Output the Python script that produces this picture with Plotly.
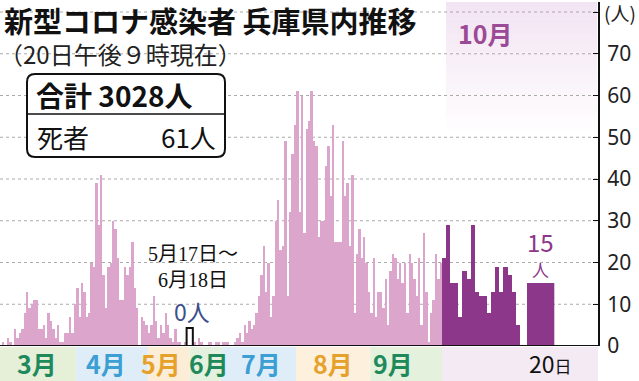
import plotly.graph_objects as go
import pandas as pd

# ---------------- data ----------------
march = [1, 0, 2, 1, 0, 4, 2, 3, 4, 8, 13, 9, 10, 11, 11, 4, 4, 5, 2, 8,
         6, 4, 2, 5, 1, 1, 3, 3, 7, 3, 10]
april = [14, 7, 15, 13, 7, 8, 20, 19, 39, 29, 41, 17, 9, 19, 20, 30, 28, 21, 11, 11,
         19, 17, 19, 25, 14, 9, 0, 7, 6, 5]
may_1_16 = [3, 5, 12, 6, 2, 5, 3, 8, 5, 2, 1, 4, 1, 1, 0, 1]
june_19_30 = [1, 0, 2, 1, 0, 0, 1, 1, 0, 1, 1, 0]
july = [1, 1, 1, 0, 0, 1, 2, 3, 1, 5, 3, 6, 4, 5, 8, 12, 17, 24, 13, 20,
        7, 12, 30, 35, 23, 24, 49, 12, 32, 46, 53]
august = [61, 32, 60, 27, 52, 54, 61, 49, 48, 26, 30, 30, 43, 48, 36, 53, 25, 25, 25, 49,
          36, 39, 24, 41, 8, 22, 28, 21, 26, 20, 13]
september = [8, 21, 7, 13, 13, 9, 16, 5, 18, 22, 21, 16, 20, 15, 20, 8, 22, 20, 16, 12,
             21, 5, 27, 13, 1, 8, 11, 22, 16, 20]
october_1_19 = [21, 29, 15, 15, 7, 18, 16, 29, 13, 12, 12, 8, 13, 19, 13, 19, 17, 13, 5]
october_20 = [15]

total_cases = 3028
deaths = 61
y_ticks = [0, 10, 20, 30, 40, 50, 60, 70, 80]
y_ticktext = ["0", "10", "20", "30", "40", "50", "60", "70", ""]
y_unit = "(人)"

month_labels = ["3月", "4月", "5月", "6月", "7月", "8月", "9月"]
month_label_dates = ["2020-03-15", "2020-04-13", "2020-05-06", "2020-06-25",
                     "2020-07-17", "2020-08-16", "2020-09-10"]

# ---------------- derived positions (compressed zero period) ----------------
pre_dates = pd.date_range("2020-03-01", "2020-05-16")
post_dates = pd.date_range("2020-06-19", "2020-09-30")
pre_vals = march + april + may_1_16
post_vals = june_19_30 + july + august + september
GAP = 3
n_pre = len(pre_dates)


def pos_of(d):
    d = pd.Timestamp(d)
    if d <= pre_dates[-1]:
        return (d - pre_dates[0]).days
    return n_pre + GAP + (d - post_dates[0]).days


x_main = [pos_of(d) for d in pre_dates] + [pos_of(d) for d in post_dates]
y_main = pre_vals + post_vals
oct_days = list(range(1, len(october_1_19) + 1))

PINK = "#dca5cc"
PURPLE = "#8d378b"
GREEN_T = "#1e8a5c"
BLUE_T = "#3b9fd3"
ORANGE_T = "#e6a12b"
label_colors = [GREEN_T, BLUE_T, ORANGE_T, GREEN_T, BLUE_T, ORANGE_T, GREEN_T]

W, H = 639, 381
PX_R = 598      # right edge of plot area (px)
PY_T, PY_B = 2, 346


def fx(px):
    return px / PX_R


def fy(py):
    return (PY_B - py) / (PY_B - PY_T)


XMIN = -1.34
XMAX = x_main[-1] + 0.5

fig = go.Figure()
fig.add_trace(go.Bar(x=x_main, y=y_main, width=1, marker=dict(color=PINK, line=dict(width=0)),
                     xaxis="x", yaxis="y", showlegend=False))
fig.add_trace(go.Bar(x=oct_days, y=october_1_19, width=1, marker=dict(color=PURPLE, line=dict(width=0)),
                     xaxis="x2", yaxis="y", showlegend=False))
fig.add_trace(go.Bar(x=["20日"], y=october_20, marker=dict(color=PURPLE, line=dict(width=0)),
                     xaxis="x3", yaxis="y", showlegend=False))

shapes = []
# October top shading (fading)
n_strips = 24
top, bot = 2, 132
for i in range(n_strips):
    y0 = top + (bot - top) * i / n_strips
    y1 = top + (bot - top) * (i + 1) / n_strips
    a = 0.42 * (1 - i / n_strips)
    shapes.append(dict(type="rect", xref="paper", yref="paper", x0=fx(446), x1=fx(597),
                       y0=fy(y1), y1=fy(y0), fillcolor=f"rgba(226,190,226,{a:.3f})",
                       line=dict(width=0), layer="below"))
# gridlines
for v in y_ticks[1:]:
    shapes.append(dict(type="line", xref="paper", yref="y", x0=0, x1=1, y0=v, y1=v,
                       line=dict(color="#ababab", width=1, dash="dot"), layer="below"))

# month bands below the axis
gap_mid = n_pre - 0.5 + GAP / 2
band_edges = [XMIN, pos_of("2020-04-01") - 0.5, pos_of("2020-05-01") - 0.5, gap_mid,
              pos_of("2020-07-01") - 0.5, pos_of("2020-08-01") - 0.5, pos_of("2020-09-01") - 0.5, XMAX]
band_colors = ["#e6f0d9", "#dfedf8", "#fcedd7", "#e4f1de", "#dfedf8", "#fdf0dc", "#e4f1dc"]
for i, c in enumerate(band_colors):
    shapes.append(dict(type="rect", xref="x", yref="paper", x0=band_edges[i], x1=band_edges[i + 1],
                       y0=fy(381), y1=fy(347), fillcolor=c, line=dict(width=0), layer="below"))
shapes.append(dict(type="rect", xref="paper", yref="paper", x0=fx(442), x1=fx(598),
                   y0=fy(381), y1=fy(347), fillcolor="#f4eaf4", line=dict(width=0), layer="below"))

# zero-period bracket
gx0, gx1 = n_pre - 0.5 + 0.2, n_pre - 0.5 + GAP - 0.2
shapes.append(dict(type="path", xref="x", yref="y",
                   path=f"M {gx0},0 L {gx0},4.3 L {gx1},4.3 L {gx1},0",
                   line=dict(color="#111", width=2)))

# baseline
shapes.append(dict(type="line", xref="paper", yref="y", x0=0, x1=1, y0=0, y1=0,
                   line=dict(color="#111", width=2), layer="above"))

# summary box (rounded)
bx0, bx1, by0, by1, r = 27, 225, 74, 157, 8
path = (f"M {fx(bx0 + r)},{fy(by0)} L {fx(bx1 - r)},{fy(by0)} Q {fx(bx1)},{fy(by0)} {fx(bx1)},{fy(by0 + r)} "
        f"L {fx(bx1)},{fy(by1 - r)} Q {fx(bx1)},{fy(by1)} {fx(bx1 - r)},{fy(by1)} "
        f"L {fx(bx0 + r)},{fy(by1)} Q {fx(bx0)},{fy(by1)} {fx(bx0)},{fy(by1 - r)} "
        f"L {fx(bx0)},{fy(by0 + r)} Q {fx(bx0)},{fy(by0)} {fx(bx0 + r)},{fy(by0)} Z")
shapes.append(dict(type="path", xref="paper", yref="paper", path=path,
                   fillcolor="white", line=dict(color="#111", width=2), layer="above"))
shapes.append(dict(type="line", xref="paper", yref="paper", x0=fx(bx0), x1=fx(bx1),
                   y0=fy(114), y1=fy(114), line=dict(color="#111", width=1.5), layer="above"))

JP = "Noto Sans CJK JP"
SERIF = "Liberation Serif, DejaVu Serif, Noto Sans CJK JP"
ann = []
ann.append(dict(text="<b>新型コロナ感染者 兵庫県内推移</b>", xref="paper", yref="paper",
                x=fx(3), y=fy(20.5), xanchor="left", yanchor="middle", showarrow=False,
                borderpad=0, font=dict(family=JP, size=29, color="#111")))
ann.append(dict(text="（20日午後９時現在）", xref="paper", yref="paper",
                x=fx(-2), y=fy(53.5), xanchor="left", yanchor="middle", showarrow=False,
                borderpad=0, font=dict(family=JP, size=24, color="#222")))
ann.append(dict(text=f"<b>合計 {total_cases}人</b>", xref="paper", yref="paper",
                x=fx(34), y=fy(95), xanchor="left", yanchor="middle", showarrow=False,
                font=dict(family=JP, size=28, color="#111")))
ann.append(dict(text="死者", xref="paper", yref="paper",
                x=fx(35), y=fy(136), xanchor="left", yanchor="middle", showarrow=False,
                font=dict(family=JP, size=26, color="#111")))
ann.append(dict(text=f"{deaths}人", xref="paper", yref="paper",
                x=fx(218), y=fy(136), xanchor="right", yanchor="middle", showarrow=False,
                font=dict(family=JP, size=26, color="#111")))
ann.append(dict(text="<b>10月</b>", xref="paper", yref="paper",
                x=fx(456), y=fy(33), xanchor="left", yanchor="middle", showarrow=False,
                font=dict(family=JP, size=25, color="#9b4b95")))
ann.append(dict(text=y_unit, xref="paper", yref="y", x=fx(638), y=80,
                xanchor="right", yanchor="middle", showarrow=False,
                font=dict(family=JP, size=19, color="#222")))
ann.append(dict(text="5月17日～<br>6月18日", xref="paper", yref="paper",
                x=fx(193), y=fy(267), xanchor="center", yanchor="middle", showarrow=False,
                font=dict(family=SERIF, size=20, color="#111")))
ann.append(dict(text="0人", xref="paper", yref="paper",
                x=fx(192), y=fy(311), xanchor="center", yanchor="middle", showarrow=False,
                font=dict(family=JP, size=23, color="#3d4f8c")))
ann.append(dict(text="15", xref="x3", yref="paper", x=0,
                y=fy(241), xanchor="center", yanchor="middle", showarrow=False,
                font=dict(family=JP, size=24, color=PURPLE)))
ann.append(dict(text="人", xref="x3", yref="paper", x=0,
                y=fy(269), xanchor="center", yanchor="middle", showarrow=False,
                font=dict(family=JP, size=17, color=PURPLE)))
ann.append(dict(text="20<span style='font-size:17px'>日</span>", xref="x3", yref="paper", x=0,
                y=fy(363), xanchor="left", xshift=-14, yanchor="middle", showarrow=False,
                font=dict(family=JP, size=23, color="#111")))
for lab, d, c in zip(month_labels, month_label_dates, label_colors):
    ann.append(dict(text=f"<b>{lab}</b>", xref="x", yref="paper", x=pos_of(d), y=fy(363),
                    xanchor="center", yanchor="middle", showarrow=False,
                    font=dict(family=JP, size=25, color=c)))

ax_common = dict(showgrid=False, zeroline=False, showline=False, showticklabels=False,
                 ticks="", fixedrange=True)
fig.update_layout(
    width=W, height=H,
    margin=dict(l=0, r=W - PX_R, t=PY_T, b=H - PY_B),
    paper_bgcolor="white", plot_bgcolor="rgba(0,0,0,0)",
    bargap=0, barmode="overlay",
    xaxis=dict(domain=[0, fx(442)], range=[XMIN, XMAX], **ax_common),
    xaxis2=dict(domain=[fx(442), 1], range=[0.5, 38.6], anchor="y", **ax_common),
    xaxis3=dict(domain=[fx(526.7), fx(554.3)], type="category", range=[-0.5, 0.5], anchor="y",
                **ax_common),
    yaxis=dict(range=[0, 82.4], side="right", anchor="x2", showgrid=False, zeroline=False,
               showline=True, linecolor="#111", linewidth=2, ticks="inside", ticklen=5,
               tickcolor="#111", tickvals=y_ticks, ticktext=y_ticktext,
               tickfont=dict(family="Noto Sans", size=21, color="#222"),
               ticklabelstandoff=3, fixedrange=True),
    shapes=shapes, annotations=ann, showlegend=False,
)

fig.write_html("out.html", config={"displayModeBar": False},
               post_script="document.body.style.margin='0';document.body.style.overflow='hidden';")
